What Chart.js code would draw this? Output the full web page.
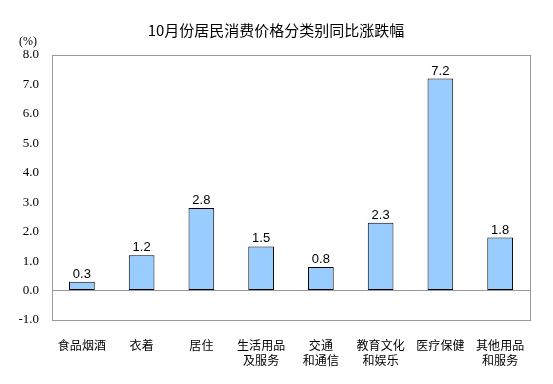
<!DOCTYPE html>
<html>
<head>
<meta charset="utf-8">
<script src="https://cdn.jsdelivr.net/npm/chart.js@4"></script>
<style>
  body { margin: 0; background: #fff; }
  #wrap { width: 553px; height: 384px; }
</style>
</head>
<body>
<div id="wrap"><canvas id="cpiChart" width="553" height="384"></canvas></div>
<script>
// 10月份居民消费价格分类别同比涨跌幅
const categories = [
  ['食品烟酒'], ['衣着'], ['居住'], ['生活用品', '及服务'],
  ['交通', '和通信'], ['教育文化', '和娱乐'], ['医疗保健'], ['其他用品', '和服务']
];
const yoyChange = [0.3, 1.2, 2.8, 1.5, 0.8, 2.3, 7.2, 1.8];
const yTicks = [-1, 0, 1, 2, 3, 4, 5, 6, 7, 8];

const titleText = '10月份居民消费价格分类别同比涨跌幅';
const unitText = '(%)';
const cjkFont = '"Noto Sans CJK SC", "Liberation Sans", sans-serif';

// title, unit, plot frame and value labels
const decorPlugin = {
  id: 'decor',
  afterDraw(chart) {
    const { ctx, chartArea: a } = chart;
    ctx.save();
    ctx.strokeStyle = '#999999';
    ctx.lineWidth = 1;
    ctx.strokeRect(Math.round(a.left) + 0.5, Math.round(a.top) + 0.5,
      Math.round(a.right - a.left), Math.round(a.bottom - a.top));

    ctx.fillStyle = '#000';
    ctx.textAlign = 'center';
    ctx.textBaseline = 'middle';
    ctx.font = '15px ' + cjkFont;
    ctx.fillText(titleText, 276, 30);

    ctx.font = '12px "Liberation Serif", serif';
    ctx.fillText(unitText, 28, 42);

    ctx.font = '13px "Liberation Sans", Arial, sans-serif';
    ctx.textBaseline = 'bottom';
    chart.getDatasetMeta(0).data.forEach((bar, i) => {
      ctx.fillText(yoyChange[i].toFixed(1), bar.x, bar.y - 1);
    });
    ctx.restore();
  }
};

new Chart(document.getElementById('cpiChart'), {
  type: 'bar',
  data: {
    labels: categories,
    datasets: [{
      data: yoyChange,
      backgroundColor: '#99CCFF',
      borderColor: '#000000',
      borderWidth: 1,
      borderSkipped: false,
      categoryPercentage: 1,
      barPercentage: 0.43
    }]
  },
  options: {
    responsive: false,
    animation: false,
    layout: { padding: { top: 55, right: 23, bottom: 0, left: 0 } },
    plugins: { legend: { display: false }, tooltip: { enabled: false } },
    scales: {
      x: {
        grid: { display: false },
        border: { display: false },
        ticks: {
          color: '#000',
          font: { family: cjkFont, size: 12, lineHeight: 1.25 },
          padding: 10,
          maxRotation: 0,
          autoSkip: false
        },
        afterFit(scale) { scale.height = 64; }
      },
      y: {
        min: -1,
        max: 8,
        afterBuildTicks(scale) { scale.ticks = yTicks.map(v => ({ value: v })); },
        grid: {
          drawTicks: false,
          color: ctx => (ctx.tick && ctx.tick.value === 0 ? '#999999' : 'rgba(0,0,0,0)')
        },
        border: { display: false },
        ticks: {
          color: '#000',
          font: { family: '"Liberation Serif", "Times New Roman", serif', size: 13 },
          padding: 13,
          callback: v => Number(v).toFixed(1)
        },
        afterFit(scale) { scale.width = 52; }
      }
    }
  },
  plugins: [decorPlugin]
});
</script>
</body>
</html>
